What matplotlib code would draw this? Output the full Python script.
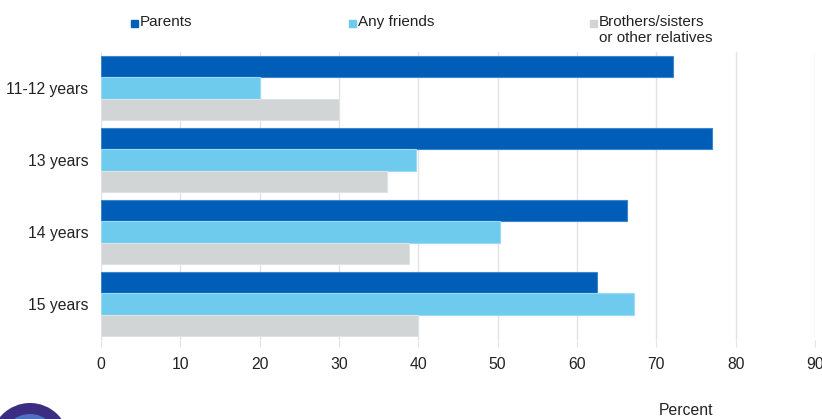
import matplotlib
matplotlib.use("Agg")
import matplotlib.pyplot as plt
import numpy as np
from matplotlib.patches import Circle, Rectangle
from matplotlib.transforms import IdentityTransform

categories = ["11-12 years", "13 years", "14 years", "15 years"]
series_names = ["Parents", "Any friends", "Brothers/sisters\nor other relatives"]
parents = [72.1, 77.0, 66.3, 62.5]
friends = [20.1, 39.7, 50.3, 67.2]
siblings = [30.0, 36.1, 38.8, 39.9]
xticks = [0, 10, 20, 30, 40, 50, 60, 70, 80, 90]

colors = ["#005EB8", "#6FCBEE", "#D1D5D5"]
edges = ["#3F85CC", "#9ADBF3", "#E0E3E3"]
txt = "#222222"

plt.rcParams['font.family'] = ['Liberation Sans', 'DejaVu Sans']

fig = plt.figure(figsize=(8.22, 4.19), dpi=100)
ax = fig.add_axes([101/822, 1-340/419, 714/822, 288/419])

y = np.arange(len(categories))
h = 0.3
for i, (vals, c, e) in enumerate(zip([parents, friends, siblings], colors, edges)):
    ax.barh(y - h + i*h, vals, height=h, color=c, edgecolor=e, linewidth=0.8, zorder=3)

ax.set_xlim(0, 90)
ax.set_ylim(len(categories) - 0.5, -0.5)
ax.set_yticks(y)
ax.set_yticklabels(categories, fontsize=11.3, color=txt)
ax.set_xticks(xticks)
ax.set_xticklabels([str(t) for t in xticks], fontsize=11.3, color=txt)
ax.grid(axis='x', color='#E3E3E3', linewidth=1, zorder=0)
for s in ax.spines.values():
    s.set_visible(False)
ax.tick_params(axis='y', length=0, pad=9)
ax.tick_params(axis='x', length=5, color='#E3E3E3', pad=7)

# legend
lx = [131, 349, 590]
for name, c, x0 in zip(series_names, colors, lx):
    fig.patches.append(Rectangle((x0/822, 1-27/419), 7/822, 7/419, transform=fig.transFigure,
                                 color=c, figure=fig))
    fig.text((x0+9)/822, 1-15/419, name, fontsize=11, va='top', ha='left',
             linespacing=1.2, color=txt)

fig.text(686/822, 1-410/419, "Percent", fontsize=11.3, ha='center', va='center', color=txt)

# logo (partial, cut off at bottom-left)
fig.patches.append(Circle((30, 419-442), 39, transform=IdentityTransform(),
                          facecolor='#3B2E82', edgecolor='none', figure=fig))
fig.patches.append(Circle((30, 419-442), 28, transform=IdentityTransform(),
                          facecolor='#4F6FBF', edgecolor='none', figure=fig))

fig.savefig("out.png", dpi=100)
